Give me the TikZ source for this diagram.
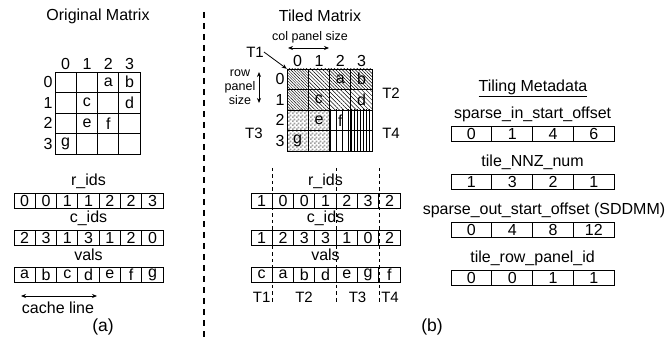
\documentclass[tikz,border=0pt]{standalone}
\usepackage{fontspec}
\setmainfont{Liberation Sans}
\usetikzlibrary{arrows.meta,patterns,patterns.meta}
\pgfdeclarepatternformonly{fine checker}{\pgfpointorigin}{\pgfqpoint{3.6pt}{3.6pt}}{\pgfqpoint{3.6pt}{3.6pt}}{%
  \pgfpathrectangle{\pgfpointorigin}{\pgfqpoint{1.8pt}{1.8pt}}%
  \pgfpathrectangle{\pgfqpoint{1.8pt}{1.8pt}}{\pgfqpoint{1.8pt}{1.8pt}}%
  \pgfusepath{fill}}
\tikzset{
  lbl/.style={font=\fontsize{16}{19}\selectfont, inner sep=0pt},
  small/.style={font=\fontsize{12.5}{14}\selectfont, inner sep=0pt, align=center},
  tlbl/.style={font=\fontsize{15}{17}\selectfont, inner sep=0pt},
  cell/.style={
    draw=black, line width=0.9pt, minimum width=21.3pt, minimum height=15.5pt,
    inner sep=0pt, font=\fontsize{16}{19}\selectfont,
  },
  mcell/.style={cell, minimum width=40.8pt},
  gcell/.style={draw=black, line width=0.9pt, minimum width=21.3pt, minimum height=20.5pt, inner sep=0pt},
  dbl/.style={{Stealth[length=5pt,width=4pt]}-{Stealth[length=5pt,width=4pt]}, line width=0.8pt},
  divider/.style={line width=1.6pt, dash pattern=on 6pt off 5pt},
  sep/.style={line width=0.6pt, dash pattern=on 3.5pt off 3pt},
  pA/.style={pattern={Lines[angle=-45,distance=2pt,line width=0.4pt]}},
  pB/.style={pattern={Lines[angle=-45,distance=2.6pt,line width=0.5pt]}},
  pC/.style={pattern={Lines[angle=-45,distance=2.3pt,line width=0.4pt]}},
  pD/.style={pattern={Lines[angle=-45,distance=3pt,line width=0.4pt]}},
  pE/.style={pattern=fine checker, pattern color=gray!75},
  pF/.style={pattern={Lines[angle=90,distance=6pt,line width=0.5pt]}},
  pG/.style={pattern={Lines[angle=90,distance=3pt,line width=0.5pt]}},
}

\begin{document}
\begin{tikzpicture}[x=1pt,y=-1pt]
  \useasboundingbox (0,0) rectangle (667,339);

  % (a) original matrix
  \node[lbl] (ttlA) at (98,16) {Original Matrix};
  \foreach \c in {0,...,3}
    \node[lbl] (cA\c) at ({65.65+21.3*\c},64) {\c};
  \foreach \r in {0,...,3}
    \node[lbl] (rA\r) at (48,{82.25+20.5*\r}) {\r};
  \foreach \r in {0,...,3}
    \foreach \c in {0,...,3}
      \node[gcell] (mA\r\c) at ({65.65+21.3*\c},{82.25+20.5*\r}) {};
  \foreach \r/\c/\v in {0/2/a,0/3/b,1/1/c,1/3/d,2/1/e,2/2/f,3/0/g}
    \node[lbl] (eA\v) at (mA\r\c) {\v};

  \node[lbl] (lrA) at (88.5,181) {r\_ids};
  \foreach \v [count=\i] in {0,0,1,1,2,2,3}
    \node[cell] (rA\i) at ({3.35+21.3*\i},200.75) {\v};
  \node[lbl] (lcA) at (88.5,218) {c\_ids};
  \foreach \v [count=\i] in {2,3,1,3,1,2,0}
    \node[cell] (cA\i) at ({3.35+21.3*\i},237.75) {\v};
  \node[lbl] (lvA) at (88.5,255) {vals};
  \foreach \v [count=\i] in {a,b,c,d,e,f,g}
    \node[cell] (vA\i) at ({3.35+21.3*\i},274.75) {\v};

  \coordinate (clL) at (21,296);
  \coordinate (clR) at (97,296);
  \draw[dbl] (clL) -- (clR);
  \node[lbl] (clT) at (58,308) {cache line};
  \node[lbl, font=\fontsize{17.5}{20}\selectfont] (capA) at (103,327) {(a)};

  \coordinate (divT) at (204,12);
  \coordinate (divB) at (204,337);
  \draw[divider] (divT) -- (divB);

  % (b) tiled matrix
  \node[lbl] (ttlB) at (320,16) {Tiled Matrix};
  \node[small] (cps) at (310,37) {col panel size};
  \coordinate (cpL) at (288,48);
  \coordinate (cpR) at (329,48);
  \draw[dbl] (cpL) -- (cpR);
  \node[small] (rps) at (240,87) {row\\panel\\size};
  \coordinate (rpT) at (259,72);
  \coordinate (rpB) at (259,103);
  \draw[dbl] (rpT) -- (rpB);

  \foreach \c in {0,...,3}
    \node[lbl] (cB\c) at ({297.65+21.3*\c},61) {\c};
  \foreach \r in {0,...,3}
    \node[lbl] (rB\r) at (280,{79.25+20.5*\r}) {\r};
  \foreach \r/\c/\p in {0/0/pA,0/1/pB,1/0/pA,1/1/pB,0/2/pC,0/3/pC,1/2/pD,1/3/pD,
                        2/0/pE,2/1/pE,3/0/pE,3/1/pE,2/2/pF,3/2/pF,2/3/pG,3/3/pG}
    \node[gcell, \p] (mB\r\c) at ({297.65+21.3*\c},{79.25+20.5*\r}) {};
  \foreach \r/\c/\v in {0/2/a,0/3/b,1/1/c,1/3/d,2/1/e,2/2/f,3/0/g}
    \node[lbl] (eB\v) at (mB\r\c) {\v};

  \node[tlbl] (tOne) at (255,52) {T1};
  \draw[-{Stealth[length=5pt,width=4pt]}, line width=0.8pt] (tOne.east) -- (mB00.north west);
  \node[tlbl] (tTwo) at (391,93) {T2};
  \node[tlbl] (tThree) at (254,133) {T3};
  \node[tlbl] (tFour) at (391,133) {T4};

  \node[lbl] (lrB) at (325.5,181) {r\_ids};
  \foreach \v [count=\i] in {1,0,0,1,2,3,2}
    \node[cell] (rB\i) at ({240.35+21.3*\i},200.75) {\v};
  \node[lbl] (lcB) at (325.5,218) {c\_ids};
  \foreach \v [count=\i] in {1,2,3,3,1,0,2}
    \node[cell] (cB\i) at ({240.35+21.3*\i},237.75) {\v};
  \node[lbl] (lvB) at (325.5,255) {vals};
  \foreach \v [count=\i] in {c,a,b,d,e,g,f}
    \node[cell] (vB\i) at ({240.35+21.3*\i},274.75) {\v};

  \foreach \k/\xx in {1/272.3,2/336.2,3/378.8} {
    \coordinate (sepT\k) at (\xx,168);
    \coordinate (sepB\k) at (\xx,303);
    \draw[sep] (sepT\k) -- (sepB\k);
  }
  \node[tlbl] (bOne) at (261.6,297) {T1};
  \node[tlbl] (bTwo) at (304,297) {T2};
  \node[tlbl] (bThree) at (357.5,297) {T3};
  \node[tlbl] (bFour) at (390,297) {T4};
  \node[lbl, font=\fontsize{17.5}{20}\selectfont] (capB) at (432,327) {(b)};

  % tiling metadata
  \node[lbl] (ttlC) at (533,88) {\underline{Tiling Metadata}};
  \node[lbl] (lsi) at (532.6,114) {sparse\_in\_start\_offset};
  \foreach \v [count=\i] in {0,1,4,6}
    \node[mcell] (si\i) at ({430.6+40.8*\i},133.75) {\v};
  \node[lbl] (lnz) at (532.6,162) {tile\_NNZ\_num};
  \foreach \v [count=\i] in {1,3,2,1}
    \node[mcell] (nz\i) at ({430.6+40.8*\i},181.75) {\v};
  \node[lbl] (lso) at (544,210) {sparse\_out\_start\_offset (SDDMM)};
  \foreach \v [count=\i] in {0,4,8,12}
    \node[mcell] (so\i) at ({430.6+40.8*\i},229.75) {\v};
  \node[lbl] (lrp) at (532.6,258) {tile\_row\_panel\_id};
  \foreach \v [count=\i] in {0,0,1,1}
    \node[mcell] (rp\i) at ({430.6+40.8*\i},277.75) {\v};
\end{tikzpicture}
\end{document}
